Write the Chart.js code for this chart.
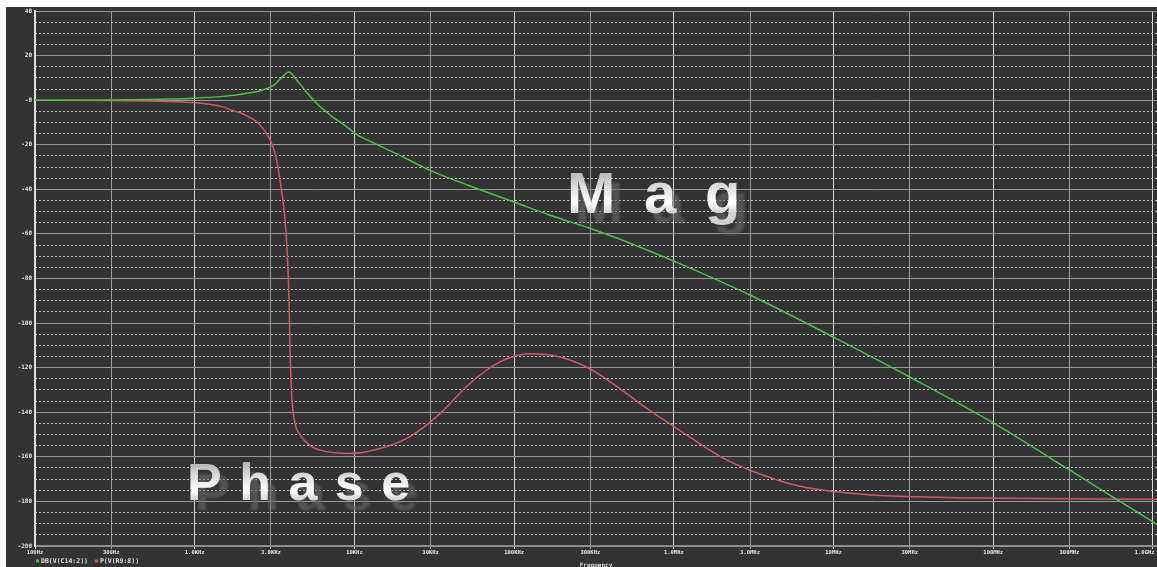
<!DOCTYPE html>
<html>
<head>
<meta charset="utf-8">
<script src="https://cdn.jsdelivr.net/npm/chart.js@4/dist/chart.umd.min.js"></script>
<style>
  html, body { margin: 0; padding: 0; background: #ffffff; }
  #plot { position: absolute; left: 6px; top: 7px; width: 1151px; height: 560px; background: #333333; }
  canvas { display: block; }
</style>
</head>
<body>
<div id="plot"><canvas id="bode" width="1151" height="560"></canvas></div>
<script>
// AC sweep of the filter: magnitude in dB and phase in degrees.
const magFreqHz = [100, 200, 300, 500, 700, 1000, 1500, 1700, 2000, 2250, 2500, 2750, 3000, 3200, 3420, 3650, 3880,
  4350, 5000, 5750, 7030, 9400, 10000, 12500, 19400, 30000, 53000, 100000,
  168000, 300000, 509000, 1e6, 2e6, 3e6, 1e7, 3e7, 1e8, 3e8, 1e9, 1.06e9];
const magDb = [0, 0.05, 0.1, 0.3, 0.5, 0.9, 1.7, 2.1, 2.8, 3.4, 4.0, 4.9, 6.0, 7.3, 9.4, 11.4, 12.6,
  9.1, 3.7, -1.2, -6.6, -13.1, -14.8, -18.4, -24.9, -31.6, -38.5, -45.7,
  -51.6, -57.6, -63.6, -72.2, -81.6, -87.4, -106.3, -124.2, -144.8, -165.9, -189.2, -190.3];

const phaseFreqHz = [100, 300, 1000, 1500, 1700, 2000, 2500, 3000, 3260, 3420, 3624, 3786, 3894, 3953, 4064,
  4247, 4565, 5270, 6090, 9380, 14450, 22280, 34360, 52970, 81650, 125900, 193800, 298700, 460500,
  709800, 1.094e6, 1.947e6, 3.0e6, 6.17e6, 1.27e7, 2.61e7, 1.1e8, 1.06e9];
const phaseDeg = [0, -0.2, -1.2, -3, -4.5, -6.2, -10.4, -18.6, -26.8, -36, -49, -67, -89, -112, -134,
  -145, -150, -155, -157, -158.5, -156.3, -150.9, -140.6, -127, -117.4, -113.8, -115.2, -120.5, -129.5,
  -139.3, -148.2, -159.8, -166, -173.2, -176.3, -177.7, -178.6, -179];

const traceNames = ['DB(V(C14:2))', 'P(V(R9:8))'];

const xTickValues = [100, 300, 1e3, 3e3, 1e4, 3e4, 1e5, 3e5, 1e6, 3e6, 1e7, 3e7, 1e8, 3e8, 1e9];
const xTickLabels = ['100Hz', '300Hz', '1.0KHz', '3.0KHz', '10KHz', '30KHz', '100KHz', '300KHz',
  '1.0MHz', '3.0MHz', '10MHz', '30MHz', '100MHz', '300MHz', '1.0GHz'];

const yTickValues = [40, 20, 0, -20, -40, -60, -80, -100, -120, -140, -160, -180, -200];
const yTickLabels = ['40', '20', '-0', '-20', '-40', '-60', '-80', '-100', '-120', '-140', '-160', '-180', '-200'];

const toPoints = (xs, ys) => xs.map((x, i) => ({ x: x, y: ys[i] }));

const smallFont = { family: '"DejaVu Sans Mono", monospace', weight: 'bold' };

// Large captions painted over the grid, behind the traces.
function drawBigLabel(ctx, text, x, y, size, spacing) {
  ctx.save();
  ctx.font = 'bold ' + size + 'px "Liberation Sans", Arial, sans-serif';
  ctx.letterSpacing = spacing + 'px';
  ctx.textBaseline = 'alphabetic';
  ctx.textAlign = 'left';
  ctx.filter = 'blur(0.8px)';
  ctx.fillStyle = 'rgba(105,105,105,0.6)';
  ctx.fillText(text, x + 8, y + 10);
  ctx.filter = 'none';
  const g = ctx.createLinearGradient(0, y - size * 0.74, 0, y);
  g.addColorStop(0, '#b2b2b2');
  g.addColorStop(0.45, '#e4e4e4');
  g.addColorStop(0.75, '#ffffff');
  g.addColorStop(1, '#d2d2d2');
  ctx.fillStyle = g;
  ctx.fillText(text, x, y);
  ctx.restore();
}

const captions = {
  id: 'captions',
  beforeDatasetsDraw(chart) {
    const ctx = chart.ctx;
    drawBigLabel(ctx, 'Mag', 561, 206, 58, 28.7);
    drawBigLabel(ctx, 'Phase', 181, 493, 52, 17.5);
  }
};

// Trace legend under the frequency axis, built from the dataset labels.
const traceLegend = {
  id: 'traceLegend',
  afterDraw(chart) {
    const ctx = chart.ctx;
    ctx.save();
    ctx.font = 'bold 6.5px "DejaVu Sans Mono", monospace';
    ctx.textBaseline = 'middle';
    ctx.textAlign = 'left';
    let x = 30;
    const y = 554;
    chart.data.datasets.forEach(ds => {
      ctx.fillStyle = ds.borderColor;
      ctx.fillRect(x, y - 1.5, 3, 3);
      x += 5;
      ctx.fillStyle = '#e2e2e2';
      ctx.fillText(ds.label, x, y);
      x += ctx.measureText(ds.label).width + 7;
    });
    ctx.restore();
  }
};

new Chart(document.getElementById('bode'), {
  type: 'line',
  data: {
    datasets: [
      {
        label: traceNames[0],
        data: toPoints(magFreqHz, magDb),
        borderColor: '#4fbf4f',
        borderWidth: 1.5,
        pointRadius: 0,
        cubicInterpolationMode: 'monotone',
        fill: false
      },
      {
        label: traceNames[1],
        data: toPoints(phaseFreqHz, phaseDeg),
        borderColor: '#cf5a66',
        borderWidth: 1.5,
        pointRadius: 0,
        cubicInterpolationMode: 'monotone',
        fill: false
      }
    ]
  },
  options: {
    responsive: false,
    animation: false,
    events: [],
    layout: { padding: { left: 0, right: 0, top: 4, bottom: 0 } },
    plugins: { legend: { display: false }, tooltip: { enabled: false } },
    scales: {
      x: {
        type: 'logarithmic',
        min: 100,
        max: 1.06e9,
        afterBuildTicks(scale) { scale.ticks = xTickValues.map(v => ({ value: v })); },
        afterFit(scale) { scale.height = 21; scale.paddingLeft = 0; scale.paddingRight = 0; },
        ticks: {
          autoSkip: false,
          maxRotation: 0,
          minRotation: 0,
          padding: 0,
          color: '#e6e6e6',
          font: Object.assign({ size: 5.5 }, smallFont),
          callback(value, index) {
            const label = xTickLabels[index];
            // keep the last label inside the frame
            return index === xTickLabels.length - 1 ? label + '\u00a0\u00a0\u00a0\u00a0\u00a0' : label;
          }
        },
        grid: {
          color(ctx) {
            const v = ctx.tick ? ctx.tick.value : 0;
            const decade = Math.abs(Math.log10(v) - Math.round(Math.log10(v))) < 1e-6;
            return decade ? '#d6d6d6' : '#9a9a9a';
          },
          lineWidth: 1,
          drawTicks: true,
          tickLength: 3
        },
        border: { color: '#8a8a8a', width: 1.5 },
        title: {
          display: true,
          text: 'Frequency',
          color: '#dcdcdc',
          padding: { top: 0, bottom: -2 },
          font: Object.assign({ size: 6 }, smallFont)
        }
      },
      y: {
        type: 'linear',
        position: 'left',
        min: -200,
        max: 40,
        afterBuildTicks(scale) { scale.ticks = yTickValues.map(v => ({ value: v })); },
        afterFit(scale) { scale.width = 29; scale.paddingTop = 0; scale.paddingBottom = 0; },
        ticks: {
          padding: 3,
          color: '#e6e6e6',
          font: Object.assign({ size: 6 }, smallFont),
          callback(value) { return yTickLabels[yTickValues.indexOf(value)]; }
        },
        grid: { color: '#989898', lineWidth: 1, drawTicks: false },
        border: { color: '#dedede', width: 2 }
      },
      yMinor: {
        type: 'linear',
        position: 'left',
        min: -200,
        max: 40,
        afterBuildTicks(scale) {
          const t = [];
          for (let v = -195; v < 40; v += 5) if (v % 20 !== 0) t.push({ value: v });
          scale.ticks = t;
        },
        afterFit(scale) { scale.width = 0; scale.paddingTop = 0; scale.paddingBottom = 0; },
        ticks: { display: false },
        grid: { color: '#c4c4c4', lineWidth: 1, drawTicks: false },
        border: { display: false, dash: [2, 2] }
      }
    }
  },
  plugins: [captions, traceLegend]
});
</script>
</body>
</html>
